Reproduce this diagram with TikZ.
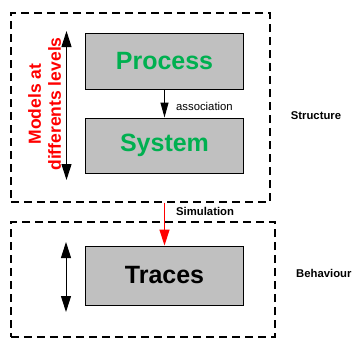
\documentclass[tikz,border=0pt]{standalone}
\usepackage{fontspec}
\setmainfont{Liberation Sans}
\usetikzlibrary{arrows.meta}
\definecolor{boxgreen}{RGB}{0,176,80}
\definecolor{boxgray}{RGB}{192,192,192}
\tikzset{
  dashbox/.style={draw, dash pattern=on 8bp off 5bp, line width=1.3bp, minimum width=#1, inner sep=0},
  block/.style={draw, fill=boxgray, line width=1bp, minimum width=157bp, minimum height=56bp, inner sep=0,
     font=\fontsize{25bp}{30bp}\selectfont\bfseries},
  smalllab/.style={font=\fontsize{11.3bp}{13bp}\selectfont, inner sep=0},
  dbl/.style={line width=1bp, {Triangle[width=10bp,length=16bp]}-{Triangle[width=10bp,length=16bp]}},
}
\begin{document}
\begin{tikzpicture}[x=1bp,y=-1bp]
\useasboundingbox (0,0) rectangle (352,338);
\node[dashbox=259bp, minimum height=189bp] (upper) at (140.5,107.5) {};
\node[dashbox=264bp, minimum height=115bp] (lower) at (143,279.5) {};
\node[block, text=boxgreen] (process) at (164.5,61) {Process};
\node[block, text=boxgreen, minimum height=55bp] (system) at (164.5,145.5) {System};
\node[block, minimum height=59bp] (traces) at (164.5,275.5) {Traces};
\draw[line width=1bp, -{Triangle[width=8bp,length=15bp]}] (process) -- (system);
\node[smalllab, anchor=west] (assoc) at (176,106) {association};
\node[smalllab, font=\fontsize{11.3bp}{13bp}\selectfont\bfseries] (struct) at (316,116) {Structure};
\draw[red, line width=1.4bp, -{Triangle[width=10bp,length=16bp]}] (upper.south -| traces.north) -- (traces.north);
\node[smalllab, anchor=west, font=\fontsize{11.3bp}{13bp}\selectfont\bfseries] (sim) at (176,211) {Simulation};
\node[smalllab, anchor=west, font=\fontsize{11.3bp}{13bp}\selectfont\bfseries] (behav) at (296,273) {Behaviour};
\coordinate (a1) at (66.5,31);
\coordinate (a2) at (66.5,180);
\draw[dbl] (a1) -- (a2);
\coordinate (b1) at (66,242);
\coordinate (b2) at (66,312);
\draw[dbl] (b1) -- (b2);
\node[rotate=90, text=red, align=center, inner sep=0, font=\fontsize{17.5bp}{20bp}\selectfont\bfseries] (models) at (44.5,104) {Models at\\differents levels};
\end{tikzpicture}
\end{document}
